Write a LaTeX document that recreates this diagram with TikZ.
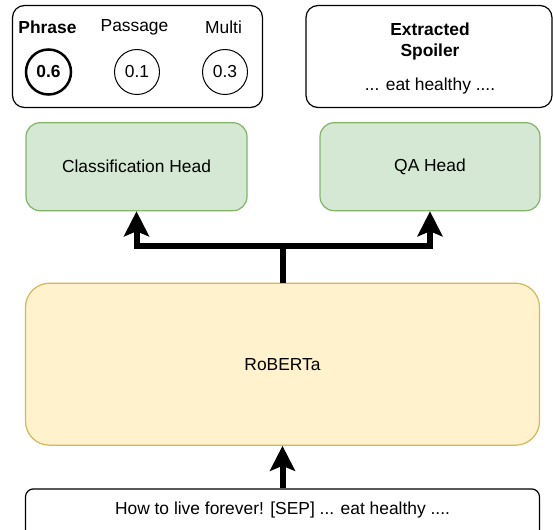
\documentclass[tikz,border=0pt]{standalone}
\usepackage{fontspec}
\setmainfont{Liberation Sans}
\usetikzlibrary{arrows.meta}
\definecolor{grfill}{HTML}{D5E8D4}
\definecolor{grline}{HTML}{82B366}
\definecolor{yefill}{HTML}{FFF2CC}
\definecolor{yeline}{HTML}{D6B656}
\begin{document}
\begin{tikzpicture}[x=1pt,y=-1pt,
  every node/.style={font=\fontsize{17.4}{21}\selectfont, inner sep=0pt},
  bold/.style={font=\fontsize{17.4}{21}\selectfont\bfseries},
  panel/.style={draw=black, line width=1.2pt, rounded corners=12pt, fill=white},
  headbox/.style={draw=grline, fill=grfill, line width=1.2pt, rounded corners=14pt},
  robbox/.style={draw=yeline, fill=yefill, line width=1.2pt, rounded corners=24pt},
  prob/.style={circle, draw=black, line width=1pt, minimum size=45pt},
  flow/.style={line width=6pt, -{Stealth[length=25pt,width=25pt,inset=5pt]}},
  trunk/.style={line width=6pt}
]
\useasboundingbox (0,0) rectangle (553,529);
\clip (0,0) rectangle (553,529);
% top-left probability panel
\node[panel, minimum width=250pt, minimum height=102pt] (probs) at (137.5,56.5) {};
\node[bold] (lphrase) at (47.5,27) {Phrase};
\node (lpassage) at (134.5,27) {Passage};
\node (lmulti) at (223.5,27) {Multi};
\node[prob, line width=2.5pt, bold] (cphrase) at (48.5,72) {0.6};
\node[prob] (cpassage) at (137,72) {0.1};
\node[prob] (cmulti) at (225,72) {0.3};
% top-right spoiler panel
\node[panel, minimum width=246pt, minimum height=102pt] (spoil) at (429,56.5) {};
\node[bold, align=center] (sptitle) at (430,42) {Extracted\\Spoiler};
\node (sptext) at (430,86) {... eat healthy ....};
% heads
\node[headbox, minimum width=221pt, minimum height=88pt] (cls) at (136.5,166.7) {Classification Head};
\node[headbox, minimum width=220pt, minimum height=88pt] (qa) at (430,166.7) {QA Head};
% RoBERTa
\node[robbox, minimum width=514pt, minimum height=162pt] (rob) at (282.5,364.2) {RoBERTa};
% input
\node[panel, rounded corners=8pt, minimum width=514pt, minimum height=60pt, anchor=north] (inp) at (282.5,488.3) {};
\node (inptext) at (282.5,510) {How to live forever! [SEP] ... eat healthy ....};
% connectors
\coordinate (split) at (282.5,246);
\draw[trunk] (rob.north) -- (split);
\draw[flow] (split) -| (cls.south);
\draw[flow] (split) -| (qa.south);
\draw[flow] (inp.north) -- (rob.south);
\end{tikzpicture}
\end{document}
